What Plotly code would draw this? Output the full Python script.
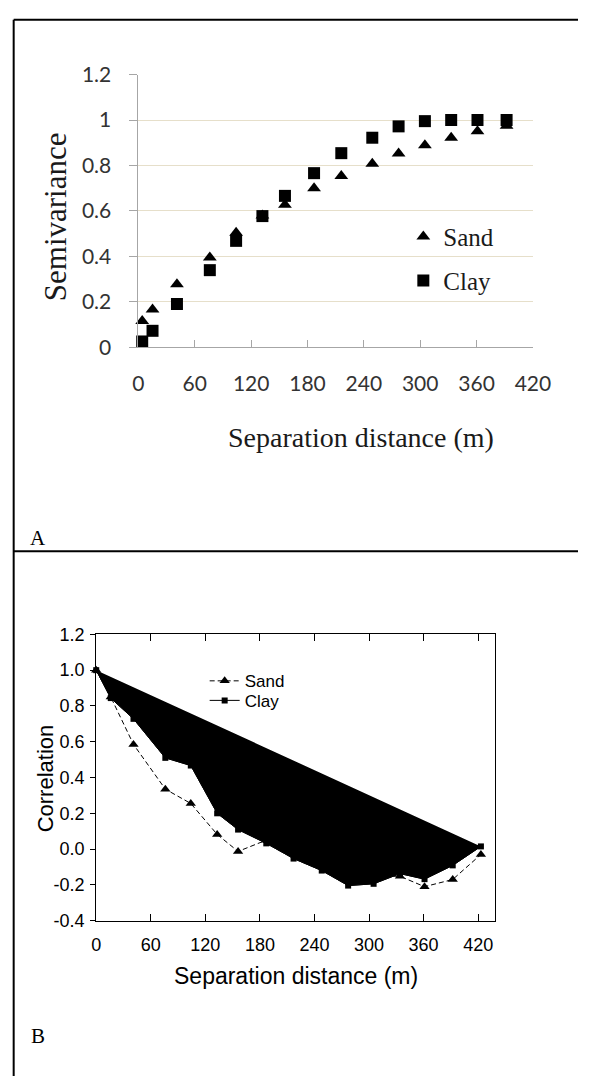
import plotly.graph_objects as go

W, H = 596, 1087

# ---- Panel A: semivariance ----
lag_a = [4, 15, 41, 76, 104, 132, 156, 187, 216, 249, 277, 305, 333, 361, 392]
sand_semivar = [0.115, 0.166, 0.277, 0.395, 0.504, 0.58, 0.627, 0.70, 0.753, 0.807, 0.853, 0.889, 0.922, 0.950, 0.975]
clay_semivar = [0.025, 0.072, 0.19, 0.339, 0.468, 0.577, 0.666, 0.766, 0.854, 0.922, 0.972, 0.995, 1.0, 1.0, 1.0]
a_xticks = [0, 60, 120, 180, 240, 300, 360, 420]
a_yticks = [0, 0.2, 0.4, 0.6, 0.8, 1.0, 1.2]
a_yticktext = ["0", "0.2", "0.4", "0.6", "0.8", "1", "1.2"]

# ---- Panel B: correlation ----
lag_b = [0, 16, 41, 76, 104, 133, 156, 187, 217, 248, 277, 305, 334, 361, 392, 423]
sand_corr = [1.0, 0.85, 0.585, 0.335, 0.255, 0.082, -0.013, 0.05, 0.0, -0.08, -0.15, -0.15, -0.152, -0.21, -0.17, -0.03]
clay_corr = [1.0, 0.844, 0.728, 0.51, 0.467, 0.20, 0.109, 0.032, -0.053, -0.12, -0.204, -0.194, -0.137, -0.168, -0.091, 0.015]
b_xticks = [0, 60, 120, 180, 240, 300, 360, 420]
b_yticks = [-0.4, -0.2, 0.0, 0.2, 0.4, 0.6, 0.8, 1.0, 1.2]
b_yticktext = ["-0.4", "-0.2", "0.0", "0.2", "0.4", "0.6", "0.8", "1.0", "1.2"]


def px_x(p):
    return p / W


def px_y(p):
    return 1 - p / H


SERIF = "Liberation Serif"
SANS = "Liberation Sans"
CALI = "Lato"

fig = go.Figure()

# Panel A markers
fig.add_trace(go.Scatter(
    x=lag_a, y=sand_semivar, mode="markers", name="Sand",
    marker=dict(symbol="triangle-up", size=12, color="black"),
    xaxis="x", yaxis="y", cliponaxis=False, legend="legend"))
fig.add_trace(go.Scatter(
    x=lag_a, y=clay_semivar, mode="markers", name="Clay",
    marker=dict(symbol="square", size=12, color="black"),
    xaxis="x", yaxis="y", cliponaxis=False, legend="legend2"))

# Panel B: sand dashed line, clay polygon filled black, clay line on top
fig.add_trace(go.Scatter(
    x=lag_b, y=sand_corr, mode="lines+markers", name="Sand",
    line=dict(color="black", width=1, dash="5px,3px"),
    marker=dict(symbol="triangle-up", size=9, color="black"),
    xaxis="x2", yaxis="y2", cliponaxis=False, legend="legend3"))
fig.add_trace(go.Scatter(
    x=lag_b, y=clay_corr, mode="lines", showlegend=False, hoverinfo="skip",
    line=dict(color="black", width=1),
    fill="toself", fillcolor="black",
    xaxis="x2", yaxis="y2"))
fig.add_trace(go.Scatter(
    x=lag_b, y=clay_corr, mode="lines+markers", name="Clay",
    line=dict(color="black", width=1),
    marker=dict(symbol="square", size=6, color="black"),
    xaxis="x2", yaxis="y2", cliponaxis=False, legend="legend4"))

grid_col = "#e6dfca"
ax_col = "#a6a6a6"

fig.update_layout(
    width=W, height=H,
    margin=dict(l=0, r=0, t=0, b=0),
    paper_bgcolor="white", plot_bgcolor="white",
    showlegend=True,
    xaxis=dict(
        domain=[px_x(138), px_x(549)], range=[0, 420], anchor="y",
        tickvals=a_xticks, ticks="inside", ticklen=7, tickcolor=ax_col,
        showline=True, linecolor=ax_col, linewidth=1, showgrid=False, zeroline=False,
        tickfont=dict(family=CALI, size=21, color="#333333"), ticklabelstandoff=18),
    yaxis=dict(
        domain=[px_y(341), px_y(62)], range=[0, 1.2], anchor="x",
        tickvals=a_yticks, ticktext=a_yticktext, ticks="outside", ticklen=8, tickcolor=ax_col,
        showline=True, linecolor=ax_col, linewidth=1, showgrid=True, gridcolor=grid_col,
        gridwidth=1, zeroline=False,
        tickfont=dict(family=CALI, size=21, color="#333333"), ticklabelstandoff=14),
    xaxis2=dict(
        domain=[px_x(94), px_x(510)], range=[0, 439], anchor="y2",
        tickvals=b_xticks, ticks="inside", ticklen=7, tickcolor="black",
        showline=True, linecolor="black", linewidth=1, mirror="ticks",
        showgrid=False, zeroline=False,
        tickfont=dict(family=SANS, size=18, color="black"), ticklabelstandoff=8),
    yaxis2=dict(
        domain=[px_y(928), px_y(635)], range=[-0.4, 1.2], anchor="x2",
        tickvals=b_yticks, ticktext=b_yticktext, ticks="outside", ticklen=5, tickcolor="black",
        showline=True, linecolor="black", linewidth=1, mirror=True,
        showgrid=False, zeroline=False,
        tickfont=dict(family=SANS, size=18, color="black"), ticklabelstandoff=2),
    legend=dict(x=px_x(414), y=px_y(228), xanchor="left", yanchor="middle",
                bgcolor="rgba(0,0,0,0)", font=dict(family=SERIF, size=25, color="#1a1a1a")),
    legend2=dict(x=px_x(414), y=px_y(273), xanchor="left", yanchor="middle",
                 bgcolor="rgba(0,0,0,0)", font=dict(family=SERIF, size=25, color="#1a1a1a")),
    legend3=dict(x=px_x(207), y=px_y(683), xanchor="left", yanchor="middle",
                 bgcolor="rgba(0,0,0,0)", font=dict(family=SANS, size=17, color="black")),
    legend4=dict(x=px_x(207), y=px_y(703), xanchor="left", yanchor="middle",
                 bgcolor="rgba(0,0,0,0)", font=dict(family=SANS, size=17, color="black")),
)

# Axis titles and panel letters
annots = [
    dict(text="Semivariance", x=px_x(51), y=px_y(207), textangle=-90,
         font=dict(family=SERIF, size=31, color="#1a1a1a")),
    dict(text="Separation distance (m)", x=px_x(370), y=px_y(433),
         font=dict(family=SERIF, size=28, color="#1a1a1a")),
    dict(text="A", x=px_x(33), y=px_y(536), font=dict(family=SERIF, size=21, color="black")),
    dict(text="Correlation", x=px_x(41), y=px_y(782), textangle=-90,
         font=dict(family=SANS, size=22, color="black")),
    dict(text="Separation distance (m)", x=px_x(302), y=px_y(985),
         font=dict(family=SANS, size=23, color="black")),
    dict(text="B", x=px_x(33), y=px_y(1046), font=dict(family=SERIF, size=21, color="black")),
]
for a in annots:
    fig.add_annotation(xref="paper", yref="paper", showarrow=False,
                       xanchor="center", yanchor="middle", **a)

# Table-cell frame around the two panels
frame = dict(color="black", width=2)
fig.add_shape(type="line", xref="paper", yref="paper", x0=px_x(8), x1=1, y0=px_y(6), y1=px_y(6), line=frame)
fig.add_shape(type="line", xref="paper", yref="paper", x0=px_x(8), x1=1, y0=px_y(550), y1=px_y(550), line=frame)
fig.add_shape(type="line", xref="paper", yref="paper", x0=px_x(8), x1=px_x(8), y0=px_y(6), y1=0, line=frame)

fig.write_html(
    "out.html",
    config={"displayModeBar": False},
    post_script="document.body.style.margin='0';document.body.style.overflow='hidden';",
)
